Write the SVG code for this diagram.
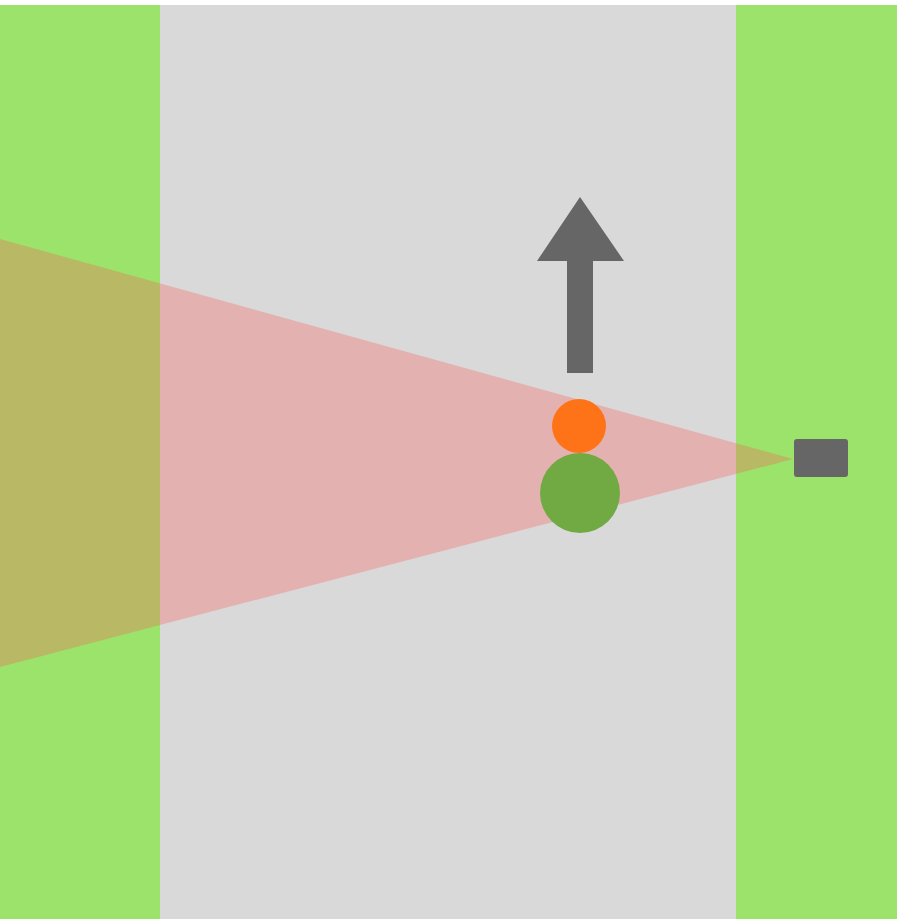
<svg xmlns="http://www.w3.org/2000/svg" width="897" height="919" viewBox="0 0 897 919">
  <style>
    .grass { fill: #9be36a; }
    .road { fill: #d9d9d9; }
    .dark { fill: #666666; }
  </style>
  <rect x="0" y="0" width="897" height="919" fill="#ffffff"/>
  <g id="ground">
    <rect class="grass" x="0" y="5" width="160" height="914"/>
    <rect class="road" x="160" y="5" width="576" height="914"/>
    <rect class="grass" x="736" y="5" width="161" height="914"/>
  </g>
  <g id="cone">
    <polygon points="793,459 0,239 0,667" fill="#ff5959" fill-opacity="0.306"/>
  </g>
  <g id="arrow">
    <polygon class="dark" points="580,197 624,261 593,261 593,373 567,373 567,261 537,261"/>
  </g>
  <g id="orange-circle">
    <circle cx="579" cy="426" r="27" fill="#ff7318"/>
  </g>
  <g id="green-circle">
    <circle cx="580" cy="493" r="40" fill="#71a942"/>
  </g>
  <g id="sensor">
    <rect class="dark" x="794" y="439" width="54" height="38" rx="3"/>
  </g>
</svg>
